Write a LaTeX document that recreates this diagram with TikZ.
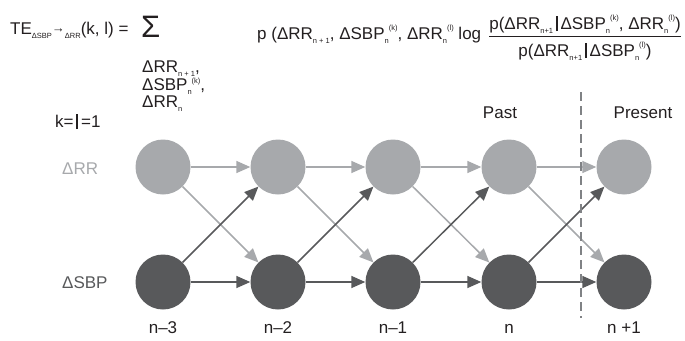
\documentclass[tikz,border=0pt]{standalone}
\usepackage{fontspec}
\setmainfont{Liberation Sans}
\usetikzlibrary{arrows.meta}
\definecolor{lightg}{HTML}{A7A9AC}
\definecolor{darkg}{HTML}{58595B}
\definecolor{dashg}{HTML}{808285}
\definecolor{ink}{HTML}{231F20}
\newcommand{\lo}[1]{\raisebox{-0.45ex}{\fontsize{7.5}{7.5}\selectfont #1}}
\newcommand{\hi}[1]{\raisebox{0.95ex}{\fontsize{7.5}{7.5}\selectfont #1}}
\newcommand{\hilow}[1]{\raisebox{0.75ex}{\fontsize{7.5}{7.5}\selectfont #1}}
\newcommand{\vbar}{\rule[-2pt]{1.8pt}{15pt}}
\begin{document}
\begin{tikzpicture}[x=1pt,y=-1pt,
  txt/.style={anchor=base west,inner sep=0pt,text=ink,font=\fontsize{17}{20}\selectfont},
  lbl/.style={anchor=base,inner sep=0pt,text=ink,font=\fontsize{17}{20}\selectfont},
  lightnode/.style={circle,fill=lightg,minimum size=55pt,inner sep=0pt},
  darknode/.style={circle,fill=darkg,minimum size=55pt,inner sep=0pt},
  lightarr/.style={draw=lightg,line width=1.5pt,-{Triangle[length=14pt,width=12pt]}},
  darkarr/.style={draw=darkg,line width=1.5pt,-{Triangle[length=14pt,width=12pt]}}]
\useasboundingbox (0,0) rectangle (685,340);
% formula
\node[txt] (te) at (10,34) {TE\lo{ΔSBP}\raisebox{0.2ex}{\fontsize{13}{13}\selectfont →}\lo{ΔRR}(k, l) =};
\node[txt,font=\fontsize{31}{31}\selectfont] (sig) at (141,37) {Σ};
\node[txt] (l1) at (142,72) {ΔRR\lo{n + 1},};
\node[txt] (l2) at (142,90) {ΔSBP\lo{n}\hilow{(k)},};
\node[txt] (l3) at (142,107) {ΔRR\lo{n}};
\node[txt] (main) at (257,39) {p (ΔRR\lo{n + 1}, ΔSBP\lo{n}\hi{(k)}, ΔRR\lo{n}\hi{(l)} log};
\node[lbl] (num) at (585,29) {p(ΔRR\lo{n+1}\,\vbar\,ΔSBP\lo{n}\hi{(k)}, ΔRR\lo{n}\hi{(l)})};
\node[lbl] (den) at (585,56) {p(ΔRR\lo{n+1}\,\vbar\,ΔSBP\lo{n}\hi{(l)})};
\draw[ink,line width=1pt] (num.south west) ++(0,3.5) coordinate (fa) -- (num.south east |- fa);
\node[txt] (kl) at (55,127) {k=\,\vbar\,=1};
% row labels
\node[anchor=base west,inner sep=0pt,text=lightg,font=\fontsize{17}{20}\selectfont] (rr) at (62,174) {ΔRR};
\node[anchor=base west,inner sep=0pt,text=darkg,font=\fontsize{17}{20}\selectfont] (sbp) at (62,288) {ΔSBP};
\node[lbl] (past) at (500,118) {Past};
\node[lbl] (pres) at (643,118) {Present};
% nodes
\foreach \i/\x in {1/163,2/278,3/393,4/509,5/624}{
  \node[lightnode] (a\i) at (\x,167) {};
  \node[darknode] (b\i) at (\x,282) {};
}
\foreach \i/\t in {1/n–3,2/n–2,3/n–1,4/n,5/n +1}{
  \node[lbl] (t\i) at (a\i |- 0,333) {\t};
}
\foreach \i/\j in {1/2,2/3,3/4,4/5}{
  \draw[lightarr] (a\i) -- (a\j);
  \draw[lightarr] (a\i) -- (b\j);
}
\foreach \i/\j in {1/2,2/3,3/4,4/5}{
  \draw[darkarr] (b\i) -- (b\j);
  \draw[darkarr] (b\i) -- (a\j);
}
\coordinate (dtop) at (581,92);
\coordinate (dbot) at (581,318);
\draw[dashg,line width=1.8pt,dash pattern=on 9pt off 5pt] (dtop) -- (dbot);
\end{tikzpicture}
\end{document}
